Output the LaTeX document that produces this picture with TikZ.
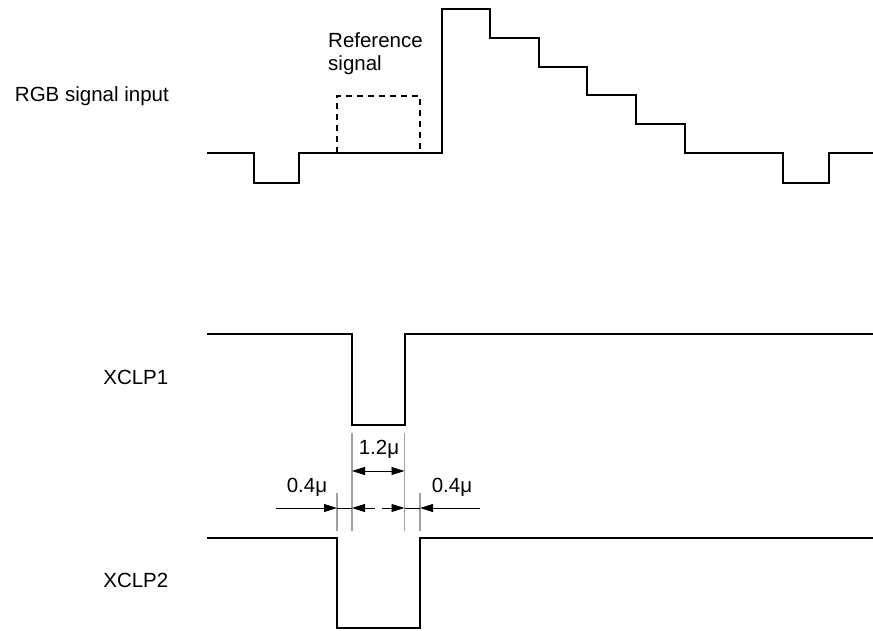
\documentclass[tikz,border=0pt]{standalone}
\usepackage{fontspec}
\setmainfont{Liberation Sans}
\usetikzlibrary{arrows.meta}
\begin{document}
\begin{tikzpicture}[x=1pt, y=-1pt,
        wave/.style={line width=2pt, line join=miter},
        refbox/.style={line width=1.6pt, dash pattern=on 6pt off 5pt},
        dimline/.style={gray!75, line width=1.3pt},
        dimarrow/.style={line width=0.9pt, -{Triangle[length=13pt, width=8pt]}},
        lbl/.style={font=\fontsize{20.5}{23}\selectfont, inner sep=0pt}]
    \useasboundingbox (0,0) rectangle (873,630);

    \node[lbl, anchor=base east] (rgb) at (169,101) {RGB signal input};
    \node[lbl, anchor=base east] (clp1) at (168.5,384.5) {XCLP1};
    \node[lbl, anchor=base east] (clp2) at (168.5,587.5) {XCLP2};
    \node[lbl, anchor=north west, align=left] (ref) at (328,32) {Reference\\signal};

    \draw[wave] (207,153) -| (254,183) -| (299,153) -| (442,9) -| (490,38) -| (539,67)
        -| (587,95) -| (636,124) -| (685,153) -| (783,183) -| (829,153) -- (873,153);
    \draw[refbox] (337,153) -- (337,96) -- (420,96) -- (420,153);

    \draw[wave] (207,334) -| (352,425) -| (404.5,334) -- (873,334);
    \draw[wave] (207,538) -| (336.5,628) -| (420,538) -- (873,538);

    \coordinate (fall1) at (352,433);
    \coordinate (rise1) at (404.5,433);
    \coordinate (fall2) at (337,493);
    \coordinate (rise2) at (420,493);
    \draw[dimline] (fall1) -- (fall1 |- 0,531);
    \draw[dimline] (rise1) -- (rise1 |- 0,531);
    \draw[dimline] (fall2) -- (fall2 |- 0,531);
    \draw[dimline] (rise2) -- (rise2 |- 0,531);

    \draw[dimarrow, {Triangle[length=13pt, width=8pt]}-{Triangle[length=13pt, width=8pt]}]
        (fall1 |- 0,471) -- (rise1 |- 0,471);
    \node[lbl, anchor=base] (wide) at (379,454.3) {1.2μ};

    \draw[dimarrow] (276,508) -- (fall2 |- 0,508);
    \draw[line width=0.9pt] (fall2 |- 0,508) -- (fall1 |- 0,508);
    \draw[dimarrow] (375,508) -- (fall1 |- 0,508);
    \draw[dimarrow] (382,508) -- (rise1 |- 0,508);
    \draw[line width=0.9pt] (rise1 |- 0,508) -- (rise2 |- 0,508);
    \draw[dimarrow] (480,508) -- (rise2 |- 0,508);
    \node[lbl, anchor=base] (leadl) at (307,492.7) {0.4μ};
    \node[lbl, anchor=base] (leadr) at (452,492.7) {0.4μ};
\end{tikzpicture}
\end{document}
